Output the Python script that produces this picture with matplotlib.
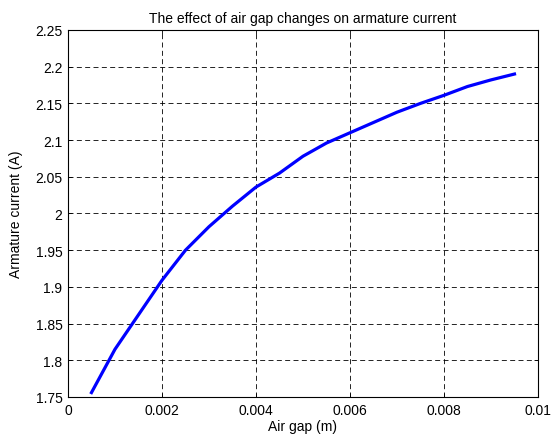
import numpy as np
import matplotlib
matplotlib.use('Agg')
import matplotlib.pyplot as plt

plt.rcParams['font.family'] = ['Liberation Sans', 'DejaVu Sans']

# air gap (m) and armature current (A)
gap = [0.0005, 0.001, 0.0015, 0.002, 0.0025, 0.003, 0.0035, 0.004, 0.0045, 0.005,
       0.0055, 0.006, 0.0065, 0.007, 0.0075, 0.008, 0.0085, 0.009, 0.0095]
current = [1.756, 1.815, 1.862, 1.909, 1.950, 1.982, 2.010, 2.036, 2.055, 2.078,
           2.096, 2.110, 2.124, 2.138, 2.150, 2.161, 2.173, 2.182, 2.190]

xticks = [0, 0.002, 0.004, 0.006, 0.008, 0.01]
xlabels = ['0', '0.002', '0.004', '0.006', '0.008', '0.01']
yticks = [1.75, 1.8, 1.85, 1.9, 1.95, 2, 2.05, 2.1, 2.15, 2.2, 2.25]
ylabels = ['1.75', '1.8', '1.85', '1.9', '1.95', '2', '2.05', '2.1', '2.15', '2.2', '2.25']

fig = plt.figure(figsize=(5.59, 4.39), dpi=100)
ax = fig.add_axes([0.1216, 0.0934, 0.8408, 0.836])
ax.plot(gap, current, color='#0000ff', lw=2.3)

ax.set_xlim(0, 0.01)
ax.set_ylim(1.75, 2.25)
ax.set_xticks(xticks)
ax.set_xticklabels(xlabels)
ax.set_yticks(yticks)
ax.set_yticklabels(ylabels)
ax.tick_params(direction='in', length=3, width=0.6, labelsize=10, top=True, right=True, pad=4)
ax.grid(True, color='black', ls=(0, (6, 4)), lw=0.6)
for s in ax.spines.values():
    s.set_linewidth(0.8)

ax.set_xlabel('Air gap (m)', fontsize=10, labelpad=2)
ax.set_ylabel('Armature current (A)', fontsize=10, labelpad=9)
ax.set_title('The effect of air gap changes on armature current', fontsize=10, pad=6)

fig.savefig('out.png', dpi=100)
